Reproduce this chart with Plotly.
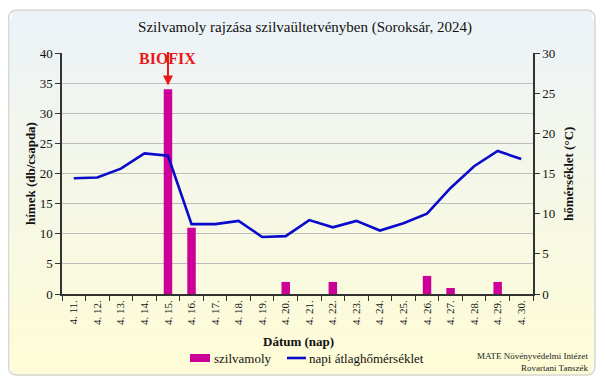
import plotly.graph_objects as go

days = ["4. 11.", "4. 12.", "4. 13.", "4. 14.", "4. 15.", "4. 16.", "4. 17.", "4. 18.", "4. 19.", "4. 20.",
        "4. 21.", "4. 22.", "4. 23.", "4. 24.", "4. 25.", "4. 26.", "4. 27.", "4. 28.", "4. 29.", "4. 30."]
moths = [0, 0, 0, 0, 34, 11, 0, 0, 0, 2, 0, 2, 0, 0, 0, 3, 1, 0, 2, 0]
temp = [14.4, 14.5, 15.6, 17.5, 17.2, 8.7, 8.7, 9.1, 7.1, 7.2, 9.2, 8.3, 9.1, 7.9, 8.8, 10.0, 13.2, 15.9, 17.8, 16.8]
series_names = ["szilvamoly", "napi átlaghőmérséklet"]

OFF = 8  # page body margin
W, H = 605 - 2 * OFF, 386 - 2 * OFF
# plot area in page coordinates
L, R, T, B = 62, 533, 53, 294


def px(x):
    return (x - L) / (R - L)


def py(y):
    return (B - y) / (B - T)


serif = "Liberation Serif"
BAR_C = "#CC0099"
LINE_C = "#0A0ACC"

fig = go.Figure()
fig.add_trace(go.Bar(x=days, y=moths, name=series_names[0], marker_color=BAR_C,
                     marker_line_width=0, width=0.36, yaxis="y", showlegend=False))
fig.add_trace(go.Scatter(x=days, y=temp, name=series_names[1], mode="lines",
                         line=dict(color=LINE_C, width=2.6), yaxis="y2", showlegend=False))

shapes = []
bx0, bx1, by0, by1 = 8.5, 595, 10, 375
n = 40
c0 = (236, 243, 248)
c1 = (254, 252, 214)
r = 9
for i in range(n):
    t = i / (n - 1)
    c = tuple(int(round(c0[k] + (c1[k] - c0[k]) * t)) for k in range(3))
    ya = by0 + (by1 - by0) * i / n
    yb = by0 + (by1 - by0) * (i + 1) / n + 0.5
    inset = 3 if i in (0, n - 1) else 0
    shapes.append(dict(type="rect", xref="paper", yref="paper", layer="below",
                       x0=px(bx0 + inset), x1=px(bx1 - inset), y0=py(ya), y1=py(yb),
                       fillcolor="rgb(%d,%d,%d)" % c, line=dict(width=0)))


def P(x, y):
    return "%f,%f" % (px(x), py(y))


path = ("M " + P(bx0 + r, by0) + " L " + P(bx1 - r, by0) + " Q " + P(bx1, by0) + " " + P(bx1, by0 + r) +
        " L " + P(bx1, by1 - r) + " Q " + P(bx1, by1) + " " + P(bx1 - r, by1) +
        " L " + P(bx0 + r, by1) + " Q " + P(bx0, by1) + " " + P(bx0, by1 - r) +
        " L " + P(bx0, by0 + r) + " Q " + P(bx0, by0) + " " + P(bx0 + r, by0) + " Z")
shapes.append(dict(type="path", xref="paper", yref="paper", layer="below", path=path,
                   line=dict(color="#D6D6D6", width=1.5)))

# custom legend symbols
LY = 358
shapes.append(dict(type="rect", xref="paper", yref="paper", x0=px(190), x1=px(210), y0=py(LY - 4), y1=py(LY + 4),
                   fillcolor=BAR_C, line=dict(width=0)))
shapes.append(dict(type="line", xref="paper", yref="paper", x0=px(287), x1=px(306), y0=py(LY), y1=py(LY),
                   line=dict(color=LINE_C, width=2.6)))

fig.update_layout(
    width=W, height=H,
    margin=dict(l=L - OFF, r=W - (R - OFF), t=T - OFF, b=H - (B - OFF), autoexpand=False),
    paper_bgcolor="white", plot_bgcolor="rgba(0,0,0,0)",
    font=dict(family=serif, color="#111111", size=12),
    title=dict(text="Szilvamoly rajzása szilvaültetvényben (Soroksár, 2024)",
               x=px(305), xref="paper", xanchor="center", y=1 - (27 - OFF) / H, yanchor="middle",
               font=dict(family=serif, size=15, color="#111111")),
    shapes=shapes,
    showlegend=False,
    xaxis=dict(type="category", tickangle=-90, tickson="boundaries", ticks="outside", ticklen=5,
               tickcolor="#333", showline=True, linecolor="#333", linewidth=1.5, showgrid=False,
               tickfont=dict(family=serif, size=11)),
    yaxis=dict(range=[0, 40], dtick=5, showline=True, linecolor="#333", linewidth=1.5,
               ticks="outside", ticklen=5, tickcolor="#333", showgrid=True, gridcolor="#BDBDBD",
               gridwidth=1, zeroline=False, tickfont=dict(family=serif, size=13)),
    yaxis2=dict(range=[0, 30], dtick=5, overlaying="y", side="right", showline=True,
                linecolor="#333", linewidth=1.5, ticks="outside", ticklen=5, tickcolor="#333",
                showgrid=False, zeroline=False, tickfont=dict(family=serif, size=13)),
)


def note(x, y, text, size, xa="center", ya="middle", angle=0, color="#111111", bold=False):
    fig.add_annotation(x=px(x), y=py(y), xref="paper", yref="paper",
                       text=("<b>%s</b>" % text) if bold else text,
                       xanchor=xa, yanchor=ya, textangle=angle, showarrow=False, align="right",
                       font=dict(family=serif, size=size, color=color))


# axis titles
note(298, 341, "Dátum (nap)", 13, bold=True)
note(30, 174, "hímek (db/csapda)", 13, angle=-90, bold=True)
note(568, 174, "hőmérséklet (°C)", 13, angle=-90, bold=True)

# legend texts
note(212, LY, series_names[0], 13, xa="left")
note(307, LY, series_names[1], 13, xa="left")

# BIOFIX marker
fig.add_annotation(x="4. 15.", y=py(58), xref="x", yref="paper", text="<b>BIOFIX</b>", showarrow=False,
                   xanchor="center", yanchor="middle",
                   font=dict(family=serif, size=16, color="#E8191A"))
fig.add_annotation(x="4. 15.", y=34.6, xref="x", yref="y", ax=0, ay=-35, axref="pixel", ayref="pixel",
                   showarrow=True, arrowhead=2, arrowsize=1, arrowwidth=2, arrowcolor="#E8191A", text="")

note(590, 362, "MATE Növényvédelmi Intézet<br>Rovartani Tanszék", 9, xa="right", color="#222")

fig.write_html("out.html")
